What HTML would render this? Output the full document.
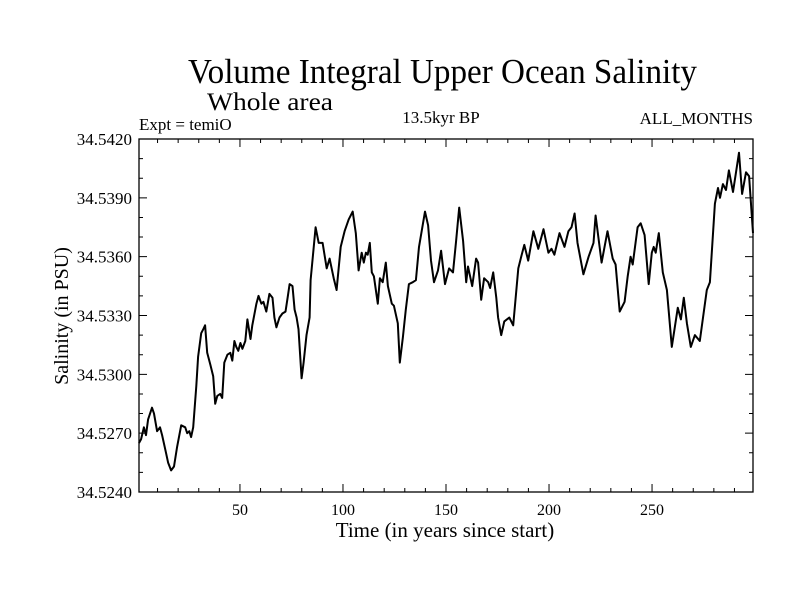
<!DOCTYPE html>
<html><head><meta charset="utf-8"><style>
html,body{margin:0;padding:0;background:#fff}
svg text{font-family:"Liberation Serif",serif;fill:#000}
</style></head><body>
<svg id="chart" width="800" height="600" viewBox="0 0 800 600" xmlns="http://www.w3.org/2000/svg">
<text x="188" y="83" font-size="35" textLength="509" lengthAdjust="spacingAndGlyphs">Volume Integral Upper Ocean Salinity</text>
<text x="207" y="110" font-size="25" textLength="126" lengthAdjust="spacingAndGlyphs">Whole area</text>
<text x="139" y="130" font-size="17">Expt = temiO</text>
<text x="441" y="123" font-size="17" text-anchor="middle">13.5kyr BP</text>
<text x="753" y="124" font-size="17" text-anchor="end">ALL_MONTHS</text>
<text transform="translate(68,316) rotate(-90)" font-size="20" text-anchor="middle">Salinity (in PSU)</text>
<text x="445" y="537" font-size="21" text-anchor="middle">Time (in years since start)</text>
<g id="axes"></g>
<g id="series"></g>
</svg>
<script>
const years=[1,2,3.4,4.4,5.4,7.3,8.3,9.8,11.2,12.2,14.1,15.1,16.6,18,19.5,21.5,23.4,24.4,25.4,26.3,27.3,28.8,29.7,31.2,32.2,33.1,34.1,35.6,37,38,39,40.4,41.4,42.4,43.9,45.3,46.3,47.3,48.2,49.2,50.2,51.2,52.6,53.6,55.1,56,58,59,60.4,61.4,62.8,64.3,65.8,66.7,67.7,69.2,70.6,72.1,73.1,74.1,75.5,76.5,77.5,78.4,79.9,80.9,82.3,83.8,84.3,86.7,88.2,90.1,92.1,93.5,95.5,96.9,98.9,100.8,102.8,104.7,106.2,107.6,109.1,110.1,111.1,112,113,114,115,116.9,117.9,119.3,120.8,121.8,123.7,124.7,126.6,127.6,129.1,130.5,132,133.9,135.4,136.9,139.8,141.3,142.7,144.2,146.1,147.6,149.5,151.5,153.4,154.9,156.4,158.3,159.8,160.7,162.7,164.6,165.6,167.1,168.5,170.5,171.4,172.9,174.4,175.3,176.8,178.3,180.7,182.6,185.1,186.5,188,189.9,192.4,194.8,197.3,199.7,201.2,202.6,205.1,207.5,209.4,210.9,212.4,213.8,216.7,219.2,221.6,222.6,225.5,228.4,230.9,232.3,234.3,236.7,238.2,239.6,240.6,243,244.5,246.4,248.4,249.9,250.8,251.8,253.3,255.2,257.2,259.6,262.5,264,265.4,266.9,268.8,270.8,273.2,276.6,278.1,280.5,282,283,284.4,285.9,287.3,289.3,292.2,293.7,295.6,297.1,299];
const salinity=[34.5265,34.5267,34.5273,34.5269,34.5277,34.5283,34.5280,34.5271,34.5273,34.5269,34.5260,34.5255,34.5251,34.5253,34.5263,34.5274,34.5273,34.5270,34.5271,34.5268,34.5273,34.5294,34.5309,34.5321,34.5323,34.5325,34.5311,34.5305,34.5299,34.5285,34.5289,34.5290,34.5288,34.5306,34.5310,34.5311,34.5307,34.5317,34.5314,34.5312,34.5316,34.5313,34.5317,34.5328,34.5318,34.5325,34.5336,34.5340,34.5336,34.5337,34.5332,34.5341,34.5339,34.5329,34.5324,34.5329,34.5331,34.5332,34.5339,34.5346,34.5345,34.5333,34.5329,34.5323,34.5298,34.5306,34.5320,34.5329,34.5348,34.5375,34.5367,34.5367,34.5354,34.5359,34.5349,34.5343,34.5365,34.5373,34.5379,34.5383,34.5372,34.5353,34.5362,34.5357,34.5362,34.5361,34.5367,34.5352,34.5350,34.5336,34.5349,34.5347,34.5357,34.5345,34.5336,34.5335,34.5326,34.5306,34.5319,34.5333,34.5346,34.5347,34.5348,34.5365,34.5383,34.5376,34.5358,34.5347,34.5353,34.5363,34.5346,34.5354,34.5352,34.5368,34.5385,34.5368,34.5347,34.5355,34.5345,34.5359,34.5357,34.5338,34.5349,34.5347,34.5344,34.5352,34.5339,34.5329,34.5320,34.5327,34.5329,34.5325,34.5354,34.5360,34.5366,34.5358,34.5373,34.5364,34.5374,34.5362,34.5364,34.5361,34.5372,34.5365,34.5373,34.5375,34.5382,34.5367,34.5351,34.5360,34.5367,34.5381,34.5357,34.5373,34.5359,34.5356,34.5332,34.5337,34.5350,34.5360,34.5356,34.5375,34.5377,34.5371,34.5346,34.5362,34.5365,34.5362,34.5372,34.5352,34.5343,34.5314,34.5334,34.5328,34.5339,34.5326,34.5314,34.5320,34.5317,34.5343,34.5347,34.5387,34.5395,34.5390,34.5397,34.5394,34.5404,34.5393,34.5413,34.5392,34.5403,34.5401,34.5372];
const yTickValues=[34.5240,34.5270,34.5300,34.5330,34.5360,34.5390,34.5420];
const yTickLabels=["34.5240","34.5270","34.5300","34.5330","34.5360","34.5390","34.5420"];
const xTickValues=[50,100,150,200,250];
const xTickLabels=["50","100","150","200","250"];

const L=139,R=753,T=139,B=492,xMin=1,xMax=299,yMin=34.524,yMax=34.542;
const sx=v=>L+(v-xMin)/(xMax-xMin)*(R-L);
const sy=v=>B-(v-yMin)/(yMax-yMin)*(B-T);
const NS="http://www.w3.org/2000/svg";
const axes=document.getElementById('axes');
function mk(tag,attrs,parent){const e=document.createElementNS(NS,tag);for(const k in attrs)e.setAttribute(k,attrs[k]);parent.appendChild(e);return e;}
const frame=mk('rect',{x:L,y:T,width:R-L,height:B-T,fill:'none',stroke:'#000','stroke-width':1.3},axes);


for(let v=10;v<xMax;v+=10){const x=sx(v);const big=v%50===0;const len=big?8:4;
 const t=mk('path',{d:`M${x},${B}V${B-len}M${x},${T}V${T+len}`,stroke:'#000','stroke-width':1},axes);
 
 }
xTickValues.forEach((v,i)=>{const t=mk('text',{x:sx(v),y:B+23,'font-size':16,'text-anchor':'middle'},axes);t.textContent=xTickLabels[i];
 
 });
for(let k=0;k<=18;k++){const v=yMin+k*0.001;const y=sy(v);const big=k%3===0;const len=big?8:4;
 const t=mk('path',{d:`M${L},${y}H${L+len}M${R},${y}H${R-len}`,stroke:'#000','stroke-width':1},axes);
 
 }
yTickValues.forEach((v,i)=>{const t=mk('text',{x:L-7,y:sy(v)+6,'font-size':17,'text-anchor':'end'},axes);t.textContent=yTickLabels[i];
 
 });
const d=years.map((v,i)=>(i?'L':'M')+sx(v).toFixed(1)+','+sy(salinity[i]).toFixed(1)).join('');
const line=mk('path',{d:d,fill:'none',stroke:'#000','stroke-width':2,'stroke-linejoin':'round'},document.getElementById('series'));


</script>
</body></html>
